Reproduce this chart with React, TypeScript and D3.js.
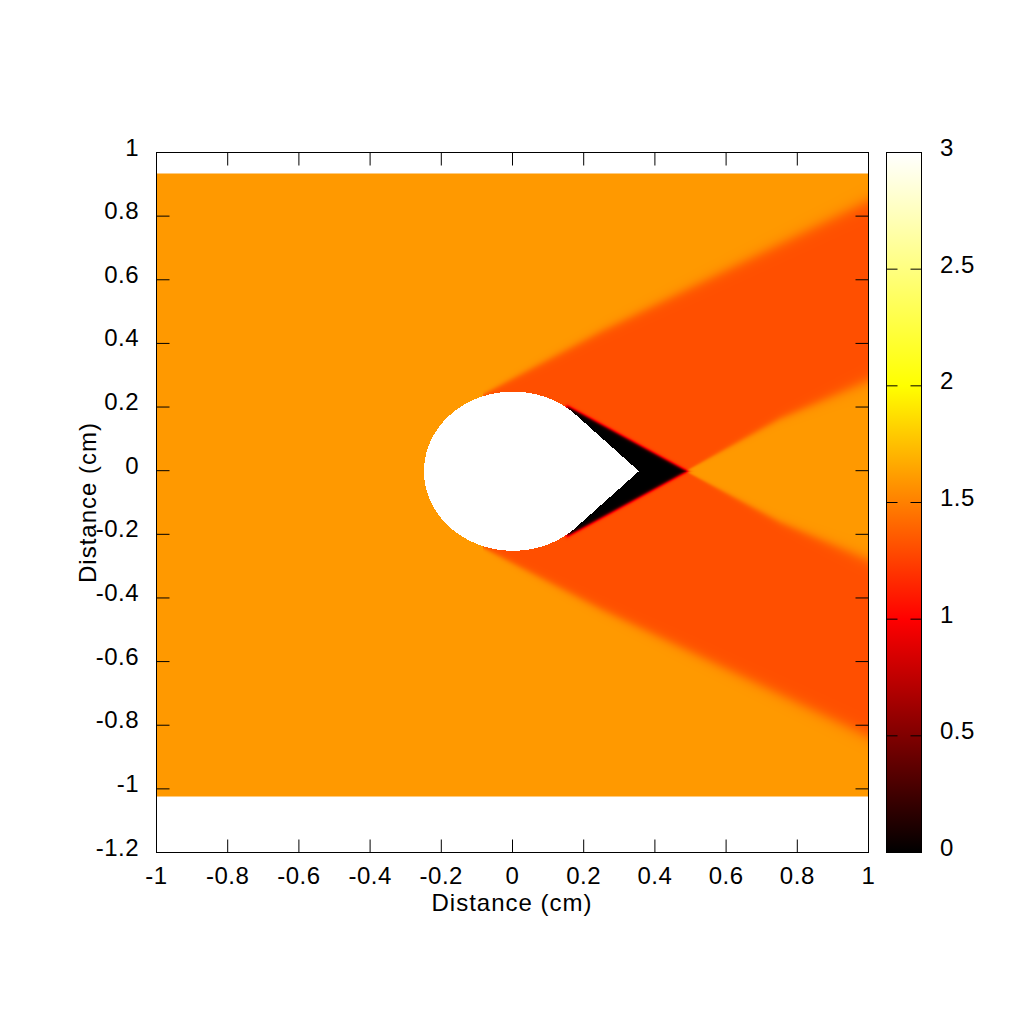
import React, { useMemo } from 'react';
import * as d3 from 'd3';

// axis ticks
const xTicks = [-1, -0.8, -0.6, -0.4, -0.2, 0, 0.2, 0.4, 0.6, 0.8, 1];
const yTicks = [-1.2, -1, -0.8, -0.6, -0.4, -0.2, 0, 0.2, 0.4, 0.6, 0.8, 1];
const cbTicks = [0, 0.5, 1, 1.5, 2, 2.5, 3];

// extent of the data grid
const dataX = [-1, 1];
const dataY = [-1.024, 0.934];

// field levels: free stream, behind the oblique shock, wake
const freeStream = 1.6;
const postShock = 1.31;
const wakeLevel = 0;

// body: circle (cx, cy, r) with a pointed tail
const bodyCircle = [0, 0, 0.25];
const bodyTip = [0.3536, 0];

// boundaries, as [x, y] points
const shockUpper = [[-0.085, 0.24], [0.25, 0.44], [1, 0.85]];
const shockLower = [[-0.085, -0.24], [0.25, -0.435], [1, -0.835]];
const fanUpper = [[0.485, 0], [0.75, 0.165], [1, 0.285]];
const fanLower = [[0.485, 0], [0.75, -0.16], [1, -0.28]];
const wakeUpper = [[0.14, 0.21], [0.485, 0]];
const wakeLower = [[0.14, -0.21], [0.485, 0]];

const W = 1024;
const H = 1024;
const plot = { left: 156.5, right: 868.5, top: 152.5, bottom: 852.5 };
const cbar = { left: 886.5, right: 921.5 };
const font = '"Liberation Sans", Arial, Helvetica, sans-serif';

const clamp = (v: number) => Math.max(0, Math.min(1, v));
// gnuplot-like "hot" palette
const hot = (v: number) => {
  const t = v / 3;
  return d3.rgb(255 * clamp(3 * t), 255 * clamp(3 * t - 1), 255 * clamp(3 * t - 2));
};

const line = (pts: number[][]) =>
  d3.scaleLinear().domain(pts.map(p => p[0])).range(pts.map(p => p[1]));

const sig = (t: number) => 1 / (1 + Math.exp(-4 * t));

const shockU = line(shockUpper);
const shockL = line(shockLower);
const fanU = line(fanUpper);
const fanL = line(fanLower);
const wakeU = line(wakeUpper);
const wakeL = line(wakeLower);

function fieldValue(x: number, y: number): number {
  const [cx, cy, r] = bodyCircle;
  const tip = bodyTip[0];
  const inCircle = (x - cx) ** 2 + (y - cy) ** 2 <= r * r;
  const inTail = x >= tip / 2 && Math.abs(y) <= tip - x;
  if (inCircle || inTail) return NaN;

  const up = y >= 0;
  const sy = up ? 1 : -1;
  const shock = up ? shockU : shockL;
  const fan = up ? fanU : fanL;
  const wake = up ? wakeU : wakeL;

  let a = 0;
  const x0 = shockUpper[0][0];
  if (x >= x0) {
    const d = sy * (shock(x) - y);
    const w = 0.012 + 0.04 * Math.sqrt(x - x0);
    a = sig(d / w);
  }
  let b = 0;
  const f0 = fanUpper[0][0];
  if (x >= f0) {
    const d = sy * (fan(x) - y);
    const w = 0.008 + 0.08 * (x - f0);
    b = sig(d / w);
  }
  let v = freeStream + (postShock - freeStream) * a * (1 - b);
  const k0 = wakeUpper[0][0];
  if (x >= k0 - 0.03) {
    const d = sy * (wake(x) - y);
    const fade = sig((x - k0 - 0.012) / 0.01);
    const c = sig((d + 0.002) / 0.012) * fade;
    v = v + (wakeLevel - v) * c;
  }
  return v;
}

export default function App() {
  const x = d3.scaleLinear().domain([-1, 1]).range([plot.left, plot.right]);
  const y = d3.scaleLinear().domain([-1.2, 1]).range([plot.bottom, plot.top]);
  const c = d3.scaleLinear().domain([0, 3]).range([plot.bottom, plot.top]);

  const img = useMemo(() => {
    const px0 = x(dataX[0]);
    const px1 = x(dataX[1]);
    const py0 = y(dataY[1]);
    const py1 = y(dataY[0]);
    const w = Math.round(px1 - px0);
    const h = Math.round(py1 - py0);
    const canvas = document.createElement('canvas');
    canvas.width = w;
    canvas.height = h;
    const ctx = canvas.getContext('2d')!;
    const data = ctx.createImageData(w, h);
    for (let j = 0; j < h; j++) {
      const yy = y.invert(py0 + j + 0.5);
      for (let i = 0; i < w; i++) {
        const xx = x.invert(px0 + i + 0.5);
        const v = fieldValue(xx, yy);
        const k = (j * w + i) * 4;
        if (Number.isNaN(v)) {
          data.data[k] = 255; data.data[k + 1] = 255; data.data[k + 2] = 255;
        } else {
          const col = hot(v);
          data.data[k] = col.r; data.data[k + 1] = col.g; data.data[k + 2] = col.b;
        }
        data.data[k + 3] = 255;
      }
    }
    ctx.putImageData(data, 0, 0);
    return { href: canvas.toDataURL(), x: px0, y: py0, w, h };
  }, []);

  const stops = d3.range(0, 3.0001, 0.1);
  const tickLen = 13;
  const cbTickLen = 11;

  return (
    <svg width={W} height={H} style={{ position: 'absolute', left: 0, top: 0, background: '#fff' }}
      fontFamily={font} fontSize={24}>
      <defs>
        <linearGradient id="hot" x1="0" y1="1" x2="0" y2="0">
          {stops.map(s => (
            <stop key={s} offset={s / 3} stopColor={hot(s).formatHex()} />
          ))}
        </linearGradient>
      </defs>

      <image href={img.href} x={img.x} y={img.y} width={img.w} height={img.h}
        preserveAspectRatio="none" style={{ imageRendering: 'pixelated' }} />

      <g stroke="#000" strokeWidth={1}>
        {xTicks.map(t => (
          <g key={'x' + t}>
            <line x1={x(t)} x2={x(t)} y1={plot.bottom} y2={plot.bottom - tickLen} />
            <line x1={x(t)} x2={x(t)} y1={plot.top} y2={plot.top + tickLen} />
          </g>
        ))}
        {yTicks.map(t => (
          <g key={'y' + t}>
            <line x1={plot.left} x2={plot.left + tickLen} y1={y(t)} y2={y(t)} />
            <line x1={plot.right} x2={plot.right - tickLen} y1={y(t)} y2={y(t)} />
          </g>
        ))}
        <rect x={plot.left} y={plot.top} width={plot.right - plot.left} height={plot.bottom - plot.top} fill="none" />
      </g>

      {xTicks.map(t => (
        <text key={'xl' + t} x={x(t)} y={884} textAnchor="middle" letterSpacing={0.5}>{t}</text>
      ))}
      {yTicks.map(t => (
        <text key={'yl' + t} x={139} y={y(t) + 3} textAnchor="end" letterSpacing={0.5}>{t}</text>
      ))}
      <text x={512} y={911} textAnchor="middle" letterSpacing={1}>Distance (cm)</text>
      <text transform={`translate(96,${(plot.top + plot.bottom) / 2}) rotate(-90)`} textAnchor="middle" letterSpacing={1}>
        Distance (cm)
      </text>

      <rect x={cbar.left} y={plot.top} width={cbar.right - cbar.left} height={plot.bottom - plot.top}
        fill="url(#hot)" stroke="#000" strokeWidth={1} />
      <g stroke="#000" strokeWidth={1}>
        {cbTicks.map(t => (
          <g key={'c' + t}>
            <line x1={cbar.left} x2={cbar.left + cbTickLen} y1={c(t)} y2={c(t)} />
            <line x1={cbar.right} x2={cbar.right - cbTickLen} y1={c(t)} y2={c(t)} />
          </g>
        ))}
      </g>
      {cbTicks.map(t => (
        <text key={'cl' + t} x={940} y={c(t) + 3.5} letterSpacing={0.5}>{t}</text>
      ))}
    </svg>
  );
}
